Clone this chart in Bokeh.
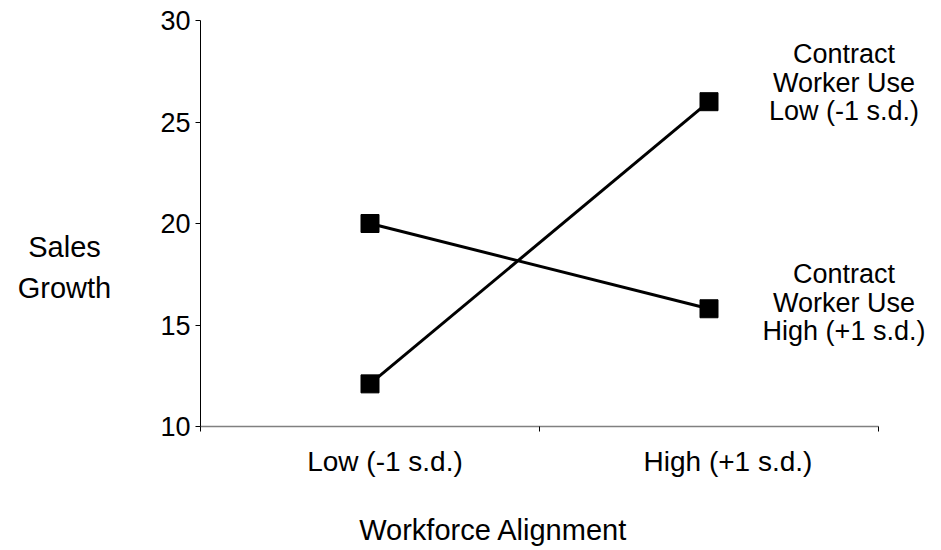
from bokeh.plotting import figure
from bokeh.models import Range1d, FixedTicker, Label
from bokeh.embed import file_html
from bokeh.resources import INLINE

categories = ["Low (-1 s.d.)", "High (+1 s.d.)"]
series_names = ["Contract\nWorker Use\nLow (-1 s.d.)", "Contract\nWorker Use\nHigh (+1 s.d.)"]
low_cwu = [12.1, 26.0]
high_cwu = [20.0, 15.8]
y_ticks = [10, 15, 20, 25, 30]
x_title = "Workforce Alignment"
y_title = "Sales\nGrowth"

FONT = "Liberation Sans"
W, H = 941, 550
# plot-area edges in pixels
LEFT, RIGHT, TOP, BOTTOM = 200, 878, 20, 426

n = len(categories)
xs = [i + 0.5 for i in range(n)]
bounds = list(range(n + 1))
ymin, ymax = y_ticks[0], y_ticks[-1]

xpx = (RIGHT - LEFT) / n
ypx = (BOTTOM - TOP) / (ymax - ymin)

def px_x(px):
    return (px - LEFT) / xpx

def px_y(py):
    return ymin + (BOTTOM - py) / ypx

p = figure(width=W, height=H, output_backend="svg", toolbar_location=None,
           x_range=Range1d(px_x(0), px_x(W)), y_range=Range1d(px_y(H), px_y(0)),
           min_border_left=0, min_border_right=0, min_border_top=0, min_border_bottom=0)
p.outline_line_color = None
p.xgrid.visible = False
p.ygrid.visible = False
p.background_fill_color = "white"
p.border_fill_color = "white"

for vals in (low_cwu, high_cwu):
    p.line(xs, vals, line_color="black", line_width=3)
    p.scatter(xs, vals, marker="square", size=18, fill_color="black", line_color="black")

xa = p.xaxis[0]
xa.fixed_location = ymin
xa.bounds = (0, n)
xa.ticker = FixedTicker(ticks=[], minor_ticks=bounds)
xa.major_label_text_font_size = "0px"
xa.major_tick_line_color = None
xa.major_tick_out = 0
xa.major_tick_in = 0
xa.minor_tick_in = 0
xa.minor_tick_out = 5
xa.minor_tick_line_color = "black"
xa.axis_line_color = "#808080"
xa.axis_line_width = 1.5

# category labels (slightly right of the category centres, as in the reference)
for x, c, dx in zip(xs, categories, (15, 19)):
    p.add_layout(Label(x=x, y=px_y(461), x_offset=dx, text=c,
                       text_font=FONT, text_font_size="28px", text_align="center",
                       text_baseline="middle", text_color="black"))

ya = p.yaxis[0]
ya.fixed_location = 0
ya.bounds = (ymin, ymax)
ya.ticker = FixedTicker(ticks=y_ticks)
ya.minor_tick_line_color = None
ya.major_tick_in = 0
ya.major_tick_out = 5
ya.major_tick_line_color = "black"
ya.axis_line_color = "black"
ya.major_label_standoff = 5
ya.major_label_text_font = FONT
ya.major_label_text_font_size = "27px"
ya.major_label_text_color = "black"

# axis titles
p.add_layout(Label(x=px_x(64), y=px_y(267), text=y_title,
                   text_font=FONT, text_font_size="29px", text_align="center",
                   text_baseline="middle", text_line_height=1.3, text_color="black"))
p.add_layout(Label(x=px_x(493), y=px_y(529), text=x_title,
                   text_font=FONT, text_font_size="29px", text_align="center",
                   text_baseline="middle", text_color="black"))

# series labels to the right of the last point
for name, vals, dy in zip(series_names, (low_cwu, high_cwu), (19, 6)):
    p.add_layout(Label(x=xs[-1], y=vals[-1], x_offset=135, y_offset=dy, text=name,
                       text_font=FONT, text_font_size="27px", text_align="center",
                       text_baseline="middle", text_line_height=0.95, text_color="black"))

open("out.html", "w").write(file_html(p, INLINE))
